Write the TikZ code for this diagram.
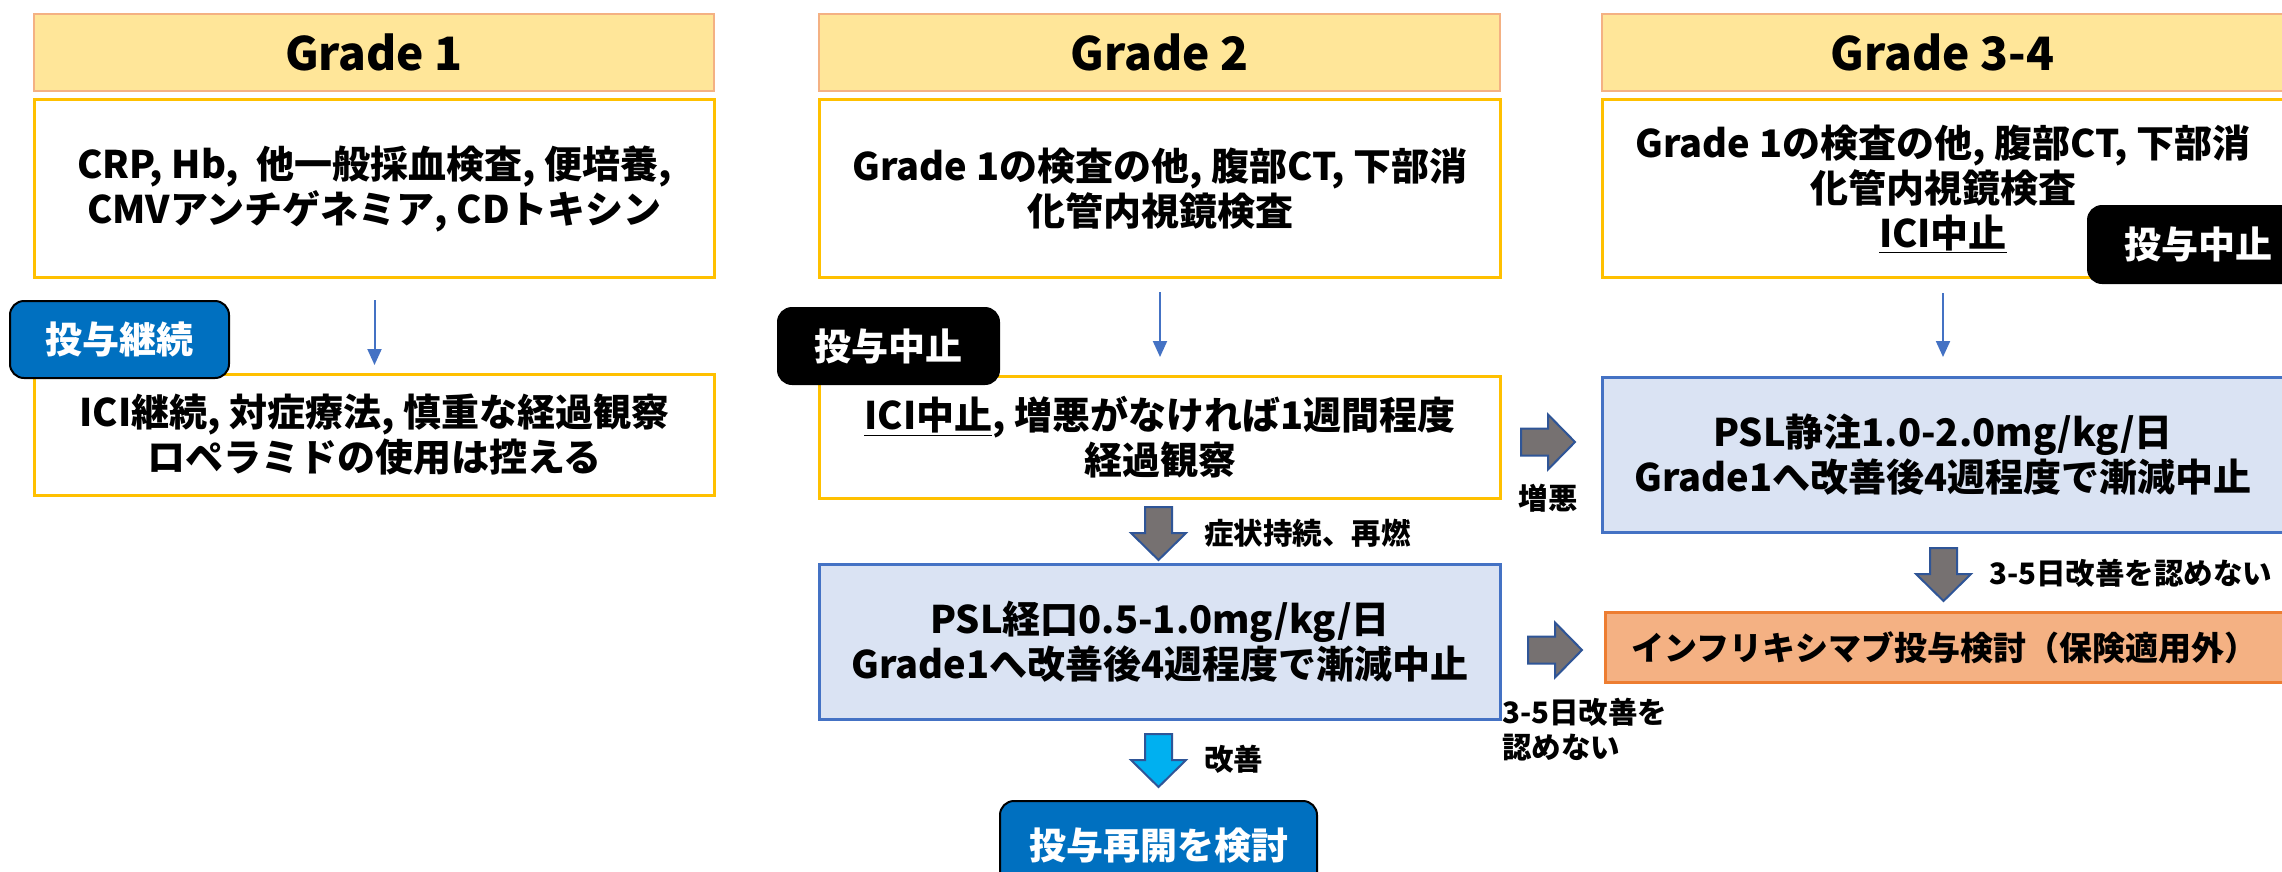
\documentclass[tikz,border=0pt]{standalone}
\usepackage{fontspec}
\setmainfont{Noto Sans CJK JP}
\usetikzlibrary{arrows.meta}
\definecolor{headfill}{HTML}{FFE699}
\definecolor{headdraw}{HTML}{F4B183}
\definecolor{gold}{HTML}{FFC000}
\definecolor{bluefill}{HTML}{DAE3F3}
\definecolor{bluedraw}{HTML}{4472C4}
\definecolor{orfill}{HTML}{F4B183}
\definecolor{ordraw}{HTML}{ED7D31}
\definecolor{badgeblue}{HTML}{0070C0}
\definecolor{arrgray}{HTML}{767171}
\definecolor{arrdark}{HTML}{2F5597}
\definecolor{arrcyan}{HTML}{00B0F0}
\newcommand\blockdown[2]{\draw[#1] (#2) ++(-13.5,0) -- ++(27,0) -- ++(0,26) -- ++(14,0) -- ++(-27.5,27) -- ++(-27.5,-27) -- ++(14,0) -- cycle;}
\newcommand\blockright[2]{\draw[#1] (#2) ++(0,-13.5) -- ++(27,0) -- ++(0,-14) -- ++(27,27.5) -- ++(-27,27.5) -- ++(0,-14) -- ++(-27,0) -- cycle;}
\tikzset{
  head/.style={draw=headdraw, fill=headfill, line width=2pt, minimum height=77pt, anchor=north west, inner sep=0pt, font=\bfseries\fontsize{46}{52}\selectfont},
  wbox/.style={draw=gold, fill=white, line width=3pt, anchor=north west, inner sep=0pt, align=center, font=\bfseries\fontsize{38}{45}\selectfont},
  bbox/.style={wbox, draw=bluedraw, fill=bluefill},
  obox/.style={wbox, draw=ordraw, fill=orfill, font=\bfseries\fontsize{33}{40}\selectfont},
  badge/.style={rounded corners=14pt, line width=2pt, draw=black, text=white, anchor=north west, inner sep=0pt, font=\bfseries\fontsize{37}{40}\selectfont},
  thinarr/.style={draw=bluedraw, line width=2pt, -{Triangle[length=16pt,width=14pt]}},
  grayarr/.style={fill=arrgray, draw=arrdark, line width=2pt, line join=miter},
  cyanarr/.style={fill=arrcyan, draw=arrdark, line width=2pt, line join=miter},
  lab/.style={inner sep=0pt, align=left, font=\bfseries\fontsize{29.5}{35}\selectfont}
}
\begin{document}
\begin{tikzpicture}[x=1pt,y=-1pt]
\path[use as bounding box, fill=white] (0,0) rectangle (2282,871);
\clip (0,0) rectangle (2282,871);
% headers
\node[head, minimum width=680pt] (h1) at (33,13) {Grade 1};
\node[head, minimum width=681pt] (h2) at (818,13) {Grade 2};
\node[head, minimum width=681pt] (h3) at (1601,13) {Grade 3-4};
% top boxes
\node[wbox, minimum width=680pt, minimum height=178pt] (t1) at (33,98) {CRP, Hb,\ \ 他一般採血検査, 便培養,\\CMVアンチゲネミア, CDトキシン};
\node[wbox, minimum width=681pt, minimum height=178pt] (t2) at (818,98) {Grade 1の検査の他, 腹部CT, 下部消\\化管内視鏡検査};
\node[wbox, minimum width=681pt, minimum height=178pt] (t3) at (1601,98) {Grade 1の検査の他, 腹部CT, 下部消\\化管内視鏡検査\\\underline{ICI中止}};
% second row
\node[wbox, minimum width=680pt, minimum height=121pt] (m1) at (33,373) {ICI継続, 対症療法, 慎重な経過観察\\ロペラミドの使用は控える};
\node[wbox, minimum width=681pt, minimum height=122pt] (m2) at (818,375) {\underline{ICI中止}, 増悪がなければ1週間程度\\経過観察};
\node[bbox, minimum width=681pt, minimum height=155pt] (m3) at (1601,376) {PSL静注1.0-2.0mg/kg/日\\Grade1へ改善後4週程度で漸減中止};
\node[bbox, minimum width=681pt, minimum height=155pt] (p2) at (818,563) {PSL経口0.5-1.0mg/kg/日\\Grade1へ改善後4週程度で漸減中止};
\node[obox, minimum width=678pt, minimum height=70pt] (inf) at (1604,611) {インフリキシマブ投与検討（保険適用外）};
% thin arrows
\draw[thinarr, shorten <=21pt, shorten >=8pt] (t1.south) -- (m1.north);
\draw[thinarr, shorten <=13pt, shorten >=18pt] (t2.south) -- (m2.north);
\draw[thinarr, shorten <=14pt, shorten >=19pt] (t3.south) -- (m3.north);
% badges
\node[badge, fill=badgeblue, minimum width=219pt, minimum height=77pt] (b1) at (9,300) {投与継続};
\node[badge, fill=black, minimum width=221pt, minimum height=76pt] (b2) at (777,307) {投与中止};
\node[badge, fill=black, minimum width=221pt, minimum height=77pt] (b3) at (2087,205) {投与中止};
\node[badge, fill=badgeblue, minimum width=317pt, minimum height=95pt, text depth=0pt] (b4) at (999,800) {\raisebox{9pt}{投与再開を検討}};
% block arrows
\coordinate (d1) at (1158.5,507);
\coordinate (d2) at (1943.5,548);
\coordinate (d3) at (1158.5,734);
\coordinate (r1) at (1521,442);
\coordinate (r2) at (1528,650);
\blockdown{grayarr}{d1}
\blockdown{grayarr}{d2}
\blockdown{cyanarr}{d3}
\blockright{grayarr}{r1}
\blockright{grayarr}{r2}
% labels
\node[lab] (l1) at (1548,498) {増悪};
\node[lab, anchor=west] (l2) at (1204,533) {症状持続、再燃};
\node[lab, anchor=west] (l3) at (1502,729.5) {3-5日改善を\\認めない};
\node[lab, anchor=west] (l4) at (1989,573) {3-5日改善を認めない};
\node[lab, anchor=west] (l5) at (1204,759) {改善};
\end{tikzpicture}
\end{document}
